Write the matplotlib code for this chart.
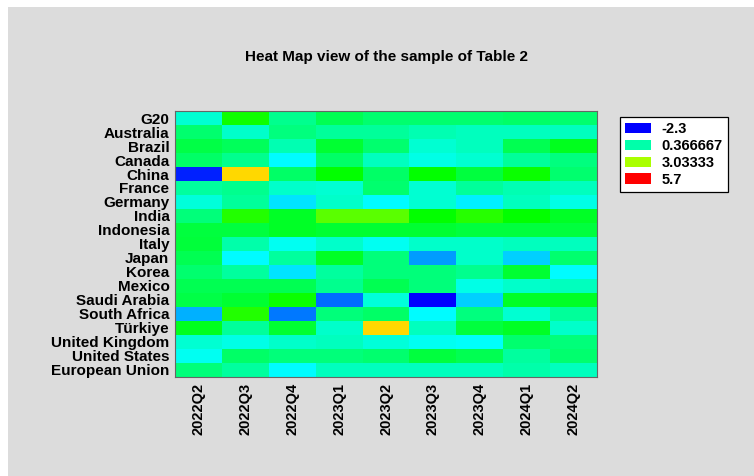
import numpy as np
import matplotlib
matplotlib.use('Agg')
import matplotlib.pyplot as plt
from matplotlib.colors import ListedColormap, Normalize, hsv_to_rgb
from matplotlib.patches import Patch, Rectangle

countries = ['G20', 'Australia', 'Brazil', 'Canada', 'China', 'France', 'Germany',
             'India', 'Indonesia', 'Italy', 'Japan', 'Korea', 'Mexico', 'Saudi Arabia',
             'South Africa', 'Türkiye', 'United Kingdom', 'United States', 'European Union']
quarters = ['2022Q2', '2022Q3', '2022Q4', '2023Q1', '2023Q2', '2023Q3', '2023Q4', '2024Q1', '2024Q2']

# one list per quarter, same order as countries
q2022_2 = [0.05, 0.85, 1.15, 0.9, -2.05, 0.45, 0.0, 0.75, 1.2, 1.25, 1.07, 0.85, 1.07, 1.15, -0.9, 1.45, 0.05, -0.2, 0.75]
q2022_3 = [1.8, 0.13, 1.0, 0.6, 4.0, 0.6, 0.5, 1.95, 1.2, 0.37, -0.3, 0.45, 1.07, 1.3, 1.95, 0.5, -0.1, 0.9, 0.45]
q2022_4 = [0.6, 0.7, 0.3, -0.3, 0.9, 0.13, -0.5, 1.4, 1.4, -0.2, 0.45, -0.5, 1.07, 1.78, -1.35, 1.3, 0.13, 0.75, -0.3]
q2023_1 = [1.07, 0.5, 1.3, 0.9, 1.7, 0.05, 0.13, 2.4, 1.3, 0.13, 1.4, 0.45, 0.6, -1.44, 0.75, 0.13, 0.2, 0.75, 0.2]
q2023_2 = [0.85, 0.5, 0.85, 0.2, 0.9, 0.85, -0.3, 2.4, 1.3, -0.2, 0.75, 0.75, 1.07, 0.0, 0.9, 4.0, 0.0, 0.85, 0.2]
q2023_3 = [0.85, 0.3, 0.05, -0.1, 1.7, 0.05, 0.05, 1.7, 1.3, 0.13, -1.05, 0.75, 0.75, -2.3, -0.3, 0.2, -0.2, 1.2, 0.2]
q2023_4 = [0.85, 0.2, 0.2, 0.05, 1.2, 0.5, -0.4, 2.0, 1.2, 0.13, 0.13, 0.6, -0.1, -0.65, 0.7, 1.2, -0.25, 1.07, 0.2]
q2024_1 = [0.9, 0.2, 1.07, 0.5, 1.78, 0.3, 0.2, 1.7, 1.2, 0.2, -0.65, 1.3, 0.13, 1.4, 0.05, 1.4, 0.85, 0.45, 0.37]
q2024_2 = [0.85, 0.2, 1.45, 0.7, 0.85, 0.2, -0.1, 1.4, 1.2, 0.2, 0.85, -0.3, 0.2, 1.4, 0.5, 0.13, 0.75, 0.85, 0.2]

legend_values = [-2.3, 0.366667, 3.03333, 5.7]

data = np.column_stack([q2022_2, q2022_3, q2022_4, q2023_1, q2023_2,
                        q2023_3, q2023_4, q2024_1, q2024_2])

# colormap: hue goes from blue (240) down to red (0)
hues = np.linspace(240, 0, 256) / 360.0
hsv = np.column_stack([hues, np.ones(256), np.ones(256)])
cmap = ListedColormap(hsv_to_rgb(hsv))
norm = Normalize(vmin=legend_values[0], vmax=legend_values[-1])

plt.rcParams['font.family'] = 'Liberation Sans'

fig = plt.figure(figsize=(7.54, 4.76), dpi=100, facecolor='white')
# gray panel with a thin white margin on left/top
fig.patches.append(Rectangle((8 / 754, 0), 1, (476 - 7) / 476, transform=fig.transFigure,
                             facecolor='#dcdcdc', edgecolor='none', zorder=-1))

ax = fig.add_axes([0.2321, 0.208, 0.5597, 0.5588])
ax.pcolormesh(np.arange(len(quarters) + 1), np.arange(len(countries) + 1), data,
              cmap=cmap, norm=norm)
ax.set_xlim(0, len(quarters))
ax.set_ylim(len(countries), 0)

ax.set_xticks(np.arange(len(quarters)) + 0.5)
ax.set_xticklabels(quarters, rotation=90, fontsize=10.5, fontweight='bold')
ax.set_yticks(np.arange(len(countries)) + 0.5)
ax.set_yticklabels(countries, fontsize=11, fontweight='bold')
ax.tick_params(length=0, pad=4)
for s in ax.spines.values():
    s.set_color('#666666')
    s.set_linewidth(0.8)

fig.text(0.5126, 0.880, 'Heat Map view of the sample of Table 2', ha='center', va='center',
         fontsize=11, fontweight='bold')

handles = [Patch(facecolor=cmap(norm(v)), edgecolor='none') for v in legend_values]
leg = fig.legend(handles, [str(v) for v in legend_values], loc='upper left',
                 bbox_to_anchor=(620 / 754, (476 - 117) / 476), bbox_transform=fig.transFigure,
                 fancybox=False, framealpha=1, edgecolor='black', borderaxespad=0,
                 handlelength=1.8, handleheight=0.75, labelspacing=0.2,
                 borderpad=0.35, handletextpad=0.7,
                 prop={'size': 10.5, 'weight': 'bold'})
leg.get_frame().set_linewidth(0.9)

plt.savefig('out.png', dpi=100)
